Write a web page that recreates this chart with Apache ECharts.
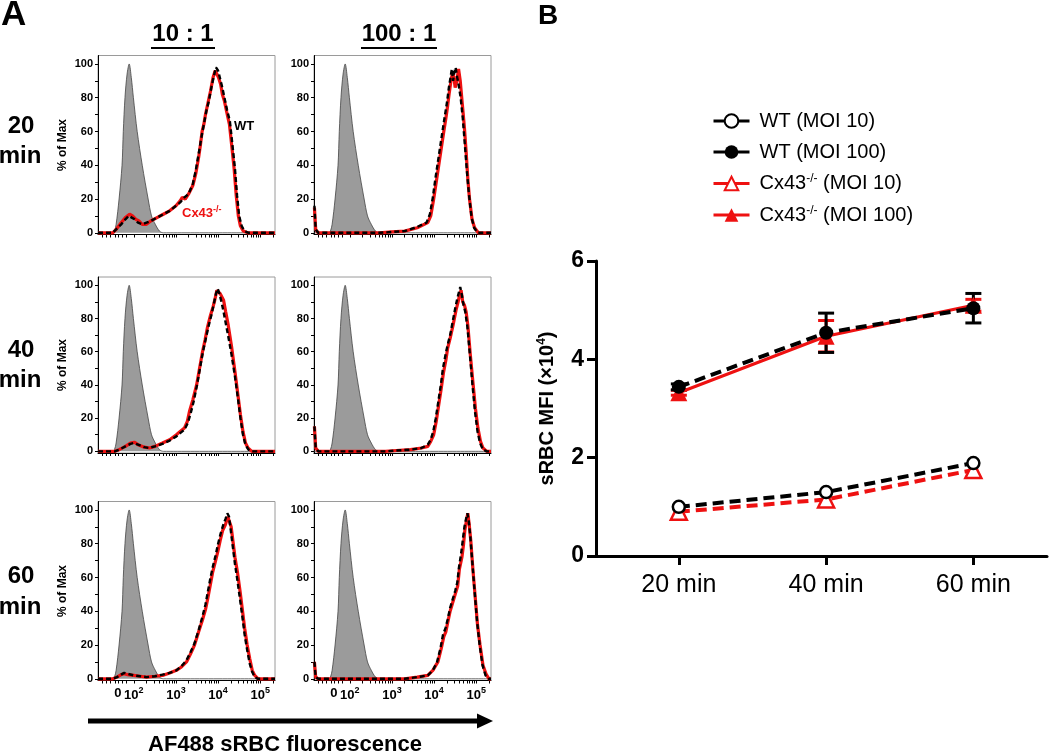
<!DOCTYPE html>
<html><head><meta charset="utf-8">
<script src="https://cdn.jsdelivr.net/npm/echarts@6/dist/echarts.min.js"></script>
<style>html,body{margin:0;padding:0;background:#fff}#c{width:1050px;height:756px}</style>
</head><body><div id="c"></div>
<script>
const FONT = '"Liberation Sans", Arial, Helvetica, sans-serif';

// ---------------- Panel A data (x = display position in decades, y = % of Max) ----------------
const rowLabels = ['20', '40', '60'];
const colLabels = ['10 : 1', '100 : 1'];
const xTickPositions = [1.62, 2, 3, 4, 5];
const xTickLabels = ['0', '10^2', '10^3', '10^4', '10^5'];
const yTickLabels = [0, 20, 40, 60, 80, 100];

const ctrlHist = [[1.15,0],[1.50,0],[1.54,1],[1.58,5],[1.65,20],[1.72,40],[1.75,60],[1.79,80],[1.84,94],[1.89,100],[1.94,92],[1.99,80],[2.08,60],[2.20,40],[2.34,20],[2.42,10],[2.51,5],[2.61,1],[2.70,0],[5.35,0]];

const cx_20_10 = [[1.15,0],[1.50,0],[1.58,2],[1.70,6],[1.80,9],[1.90,11],[1.97,10],[2.05,8],[2.12,7],[2.20,5],[2.30,5],[2.40,7],[2.55,9],[2.70,11],[2.85,13],[3.00,16],[3.10,19],[3.15,21],[3.22,20],[3.30,23],[3.40,28],[3.47,35],[3.54,45],[3.58,52],[3.62,60],[3.66,64],[3.70,70],[3.76,77],[3.82,84],[3.88,92],[3.93,96],[3.97,94],[4.01,92],[4.06,88],[4.10,82],[4.15,78],[4.20,72],[4.27,64],[4.33,50],[4.38,38],[4.43,22],[4.48,10],[4.53,4],[4.60,1],[4.70,0],[5.35,0]];
const wt_20_10 = [[1.15,0],[1.50,0],[1.58,2],[1.70,5],[1.80,8],[1.88,10],[1.95,9],[2.02,8],[2.10,6],[2.20,5],[2.30,6],[2.40,7],[2.55,9],[2.70,11],[2.85,13],[3.00,16],[3.10,18],[3.20,21],[3.30,23],[3.40,29],[3.47,37],[3.54,47],[3.60,56],[3.66,64],[3.72,72],[3.78,78],[3.84,86],[3.90,93],[3.95,98],[4.00,96],[4.05,91],[4.10,86],[4.15,80],[4.21,73],[4.28,66],[4.34,52],[4.40,38],[4.45,22],[4.50,10],[4.56,4],[4.63,1],[4.72,0],[5.35,0]];

const cx_20_100 = [[1.16,15],[1.19,2],[1.25,0],[2.70,0],[3.00,0.5],[3.30,1],[3.60,3],[3.85,6],[3.92,10],[3.99,20],[4.05,30],[4.11,40],[4.17,50],[4.23,60],[4.28,68],[4.32,75],[4.36,83],[4.40,90],[4.44,95],[4.47,92],[4.50,86],[4.54,90],[4.58,97],[4.62,90],[4.67,76],[4.72,62],[4.76,48],[4.80,32],[4.84,20],[4.90,8],[4.96,3],[5.05,0],[5.35,0]];
const wt_20_100 = [[1.16,16],[1.19,2],[1.25,0],[2.70,0],[3.00,0.5],[3.30,1],[3.60,3.5],[3.82,6],[3.90,11],[3.97,21],[4.03,32],[4.09,42],[4.15,52],[4.21,62],[4.26,70],[4.31,78],[4.35,86],[4.39,92],[4.42,97],[4.45,90],[4.48,95],[4.51,98],[4.54,93],[4.58,88],[4.63,80],[4.68,68],[4.73,52],[4.78,36],[4.83,22],[4.89,9],[4.95,3],[5.03,0],[5.35,0]];

const cx_40_10 = [[1.15,0],[1.55,0],[1.65,1],[1.80,3],[1.92,5],[2.01,5.5],[2.10,4],[2.25,2.5],[2.37,2],[2.50,3],[2.68,5],[2.85,7],[3.01,10],[3.10,12],[3.20,14],[3.27,18],[3.32,24],[3.40,31],[3.49,40],[3.56,50],[3.63,60],[3.69,67],[3.75,75],[3.82,82],[3.88,87],[3.92,91],[3.97,97],[4.01,98],[4.05,95],[4.09,96],[4.13,91],[4.18,84],[4.24,76],[4.32,63],[4.40,48],[4.47,34],[4.53,22],[4.59,12],[4.65,5],[4.71,2],[4.80,0],[5.35,0]];
const wt_40_10 = [[1.15,0],[1.55,0],[1.65,1],[1.80,3],[1.92,4.5],[2.00,5],[2.10,4],[2.25,2.5],[2.37,2],[2.50,3],[2.68,4.5],[2.85,6.5],[3.01,9],[3.10,11],[3.20,13],[3.28,17],[3.35,23],[3.42,30],[3.50,40],[3.57,50],[3.64,60],[3.70,67],[3.77,75],[3.84,82],[3.90,89],[3.95,95],[3.99,98],[4.03,95],[4.08,90],[4.13,84],[4.19,76],[4.25,68],[4.32,58],[4.40,45],[4.47,32],[4.53,20],[4.59,10],[4.65,4],[4.72,1],[4.80,0],[5.35,0]];

const cx_40_100 = [[1.16,15],[1.19,2],[1.25,0],[2.85,0],[3.10,0.5],[3.44,1],[3.70,2],[3.85,3],[3.92,6],[3.99,10],[4.05,18],[4.11,28],[4.17,38],[4.22,47],[4.28,55],[4.32,62],[4.38,68],[4.45,76],[4.52,85],[4.57,90],[4.61,95],[4.64,97],[4.68,90],[4.72,88],[4.76,84],[4.80,76],[4.86,58],[4.92,42],[4.98,26],[5.04,14],[5.10,6],[5.16,2],[5.25,0],[5.35,0]];
const wt_40_100 = [[1.16,15],[1.19,2],[1.25,0],[2.85,0],[3.10,0.5],[3.44,1],[3.70,2],[3.85,4],[3.92,7],[3.98,12],[4.04,20],[4.10,30],[4.16,40],[4.21,50],[4.27,58],[4.32,64],[4.38,70],[4.44,78],[4.50,86],[4.55,92],[4.59,96],[4.62,99],[4.66,94],[4.70,88],[4.74,84],[4.79,75],[4.85,58],[4.91,40],[4.97,24],[5.03,12],[5.09,5],[5.16,1],[5.25,0],[5.35,0]];

const cx_60_10 = [[1.15,0],[1.50,0],[1.60,1],[1.70,2.5],[1.77,3],[1.85,2.5],[2.00,2],[2.15,1.5],[2.30,1],[2.50,1.5],[2.68,2],[2.85,3.5],[3.01,5],[3.13,7],[3.25,10],[3.35,15],[3.44,20],[3.54,28],[3.63,35],[3.70,41],[3.75,47],[3.81,55],[3.87,63],[3.93,69],[3.99,75],[4.05,82],[4.11,88],[4.17,91],[4.23,96],[4.27,95],[4.31,90],[4.36,80],[4.40,72],[4.46,63],[4.52,52],[4.58,40],[4.63,30],[4.69,20],[4.75,12],[4.81,5],[4.87,2],[4.95,0],[5.35,0]];
const wt_60_10 = [[1.15,0],[1.50,0],[1.60,1],[1.70,2.5],[1.77,3.5],[1.85,3],[2.00,2],[2.15,1.5],[2.30,1],[2.50,1.5],[2.68,2.5],[2.85,3.5],[3.01,5],[3.13,7.5],[3.25,11],[3.35,16],[3.44,21],[3.54,29],[3.63,37],[3.70,44],[3.76,52],[3.82,60],[3.88,67],[3.94,73],[4.00,80],[4.06,86],[4.12,91],[4.18,95],[4.22,98],[4.26,96],[4.30,88],[4.35,78],[4.40,68],[4.46,58],[4.52,47],[4.58,36],[4.63,26],[4.69,17],[4.75,9],[4.81,4],[4.87,1],[4.95,0],[5.35,0]];

const cx_60_100 = [[1.16,10],[1.19,1],[1.25,0],[3.30,0],[3.60,1],[3.85,2],[3.97,5],[4.09,10],[4.17,18],[4.23,25],[4.28,28],[4.32,33],[4.38,40],[4.44,45],[4.50,50],[4.56,55],[4.60,65],[4.66,72],[4.70,80],[4.73,88],[4.77,94],[4.80,98],[4.83,92],[4.87,82],[4.92,65],[4.97,50],[5.03,32],[5.09,20],[5.16,8],[5.23,3],[5.30,0],[5.35,0]];
const wt_60_100 = [[1.16,10],[1.19,1],[1.25,0],[3.30,0],[3.60,1],[3.85,2],[3.97,5],[4.07,10],[4.15,18],[4.21,26],[4.27,30],[4.32,35],[4.38,42],[4.44,47],[4.50,52],[4.55,57],[4.59,66],[4.64,74],[4.68,82],[4.72,90],[4.76,95],[4.79,98],[4.82,94],[4.86,84],[4.91,68],[4.96,52],[5.02,34],[5.08,20],[5.15,8],[5.22,2],[5.30,0],[5.35,0]];

// ---------------- Panel B data ----------------
const timeMins = [20, 40, 60];
const wtMoi10 = [1.0, 1.3, 1.89];
const wtMoi100 = [3.44, 4.54, 5.04];
const cxMoi10 = [0.9, 1.15, 1.75];
const cxMoi100 = [3.32, 4.47, 5.1];
const wtMoi100Err = [0.06, 0.4, 0.3];
const cxMoi100Err = [0.05, 0.32, 0.12];
const seriesNames = ['WT (MOI 10)', 'WT (MOI 100)', 'Cx43-/- (MOI 10)', 'Cx43-/- (MOI 100)'];

// ---------------- layout ----------------
const RED = '#ee1111';
const panelData = [
  [cx_20_10, wt_20_10], [cx_20_100, wt_20_100],
  [cx_40_10, wt_40_10], [cx_40_100, wt_40_100],
  [cx_60_10, wt_60_10], [cx_60_100, wt_60_100]
];
const rowTops = [55.5, 277, 501.5];
const rowHeights = [179, 176, 179];
const colLefts = [98, 314];
const PW = 177;

const grids = [], xAxes = [], yAxes = [], series = [];
const logTicks = [1.25, 1.35, 1.45, 1.55, 1.62, 1.72, 1.82];
for (let d = 2; d <= 5; d++) for (let k = 1; k <= 9; k++) { const v = d + Math.log10(k); if (v <= 5.35) logTicks.push(v); }

for (let r = 0; r < 3; r++) {
  for (let c = 0; c < 2; c++) {
    const gi = r * 2 + c;
    grids.push({ left: colLefts[c], top: rowTops[r], width: PW, height: rowHeights[r], show: true, borderColor: '#9a9a9a', borderWidth: 1, containLabel: false });
    xAxes.push({
      type: 'value', gridIndex: gi, min: 1.15, max: 5.35,
      splitLine: { show: false },
      axisLine: { show: true, onZero: false, lineStyle: { color: '#000', width: 1 } },
      axisTick: { show: true, customValues: logTicks, length: 3, lineStyle: { color: '#000', width: 1 } },
      axisLabel: {
        show: r === 2, customValues: xTickPositions, margin: 6, color: '#000',
        formatter: v => {
          const i = xTickPositions.findIndex(p => Math.abs(p - v) < 1e-6);
          const t = i >= 0 ? xTickLabels[i] : '';
          if (t.indexOf('^') < 0) return '{b|' + t + '}';
          const parts = t.split('^');
          return '{b|' + parts[0] + '}{s|' + parts[1] + '}';
        },
        rich: {
          b: { fontSize: 13, fontWeight: 'bold', fontFamily: FONT, color: '#000' },
          s: { fontSize: 9, fontWeight: 'bold', fontFamily: FONT, color: '#000', padding: [0, 0, 9, 0] }
        }
      }
    });
    yAxes.push({
      type: 'value', gridIndex: gi, min: -1, max: 105,
      splitLine: { show: false },
      axisLine: { show: true, onZero: false, lineStyle: { color: '#000', width: 1 } },
      axisTick: { show: true, customValues: [0,10,20,30,40,50,60,70,80,90,100], length: 3, lineStyle: { color: '#000' } },
      axisLabel: { customValues: yTickLabels, fontSize: 11, fontWeight: 'bold', fontFamily: FONT, color: '#000', margin: 5 },
      name: c === 0 ? '% of Max' : '', nameLocation: 'middle', nameGap: 29, nameRotate: 90,
      nameTextStyle: { fontSize: 12, fontWeight: 'bold', fontFamily: FONT, color: '#000' }
    });
    const [cx, wt] = panelData[gi];
    series.push({
      type: 'line', xAxisIndex: gi, yAxisIndex: gi, data: ctrlHist, symbol: 'none', smooth: 0.3,
      lineStyle: { color: '#444', width: 0.8 }, areaStyle: { color: '#9b9b9b', opacity: 1 }, z: 2, silent: true
    });
    series.push({
      type: 'line', xAxisIndex: gi, yAxisIndex: gi, data: cx, symbol: 'none',
      lineStyle: { color: RED, width: 3.2 }, z: 3, silent: true
    });
    series.push({
      type: 'line', xAxisIndex: gi, yAxisIndex: gi, data: wt, symbol: 'none',
      lineStyle: { color: '#000', width: 2.4, type: [5, 3] }, z: 4, silent: true
    });
  }
}

// Panel B grid
const BG = 6;
grids.push({ left: 596, top: 261, width: 451, height: 295, show: false });
xAxes.push({
  type: 'value', gridIndex: BG, min: 8.75, max: 70,
  splitLine: { show: false },
  axisLine: { show: true, onZero: false, lineStyle: { color: '#000', width: 3 } },
  axisTick: { show: true, customValues: timeMins, length: 9, lineStyle: { color: '#000', width: 3 } },
  axisLabel: { customValues: timeMins, formatter: v => v + ' min', fontSize: 25, fontFamily: FONT, color: '#000', margin: 17 }
});
yAxes.push({
  type: 'value', gridIndex: BG, min: 0, max: 6, interval: 2,
  splitLine: { show: false },
  axisLine: { show: true, onZero: false, lineStyle: { color: '#000', width: 3 } },
  axisTick: { show: true, length: 9, lineStyle: { color: '#000', width: 3 } },
  axisLabel: { fontSize: 23, fontWeight: 'bold', fontFamily: FONT, color: '#000', margin: 12 },
  name: 'sRBC MFI (×10{s|4})', nameLocation: 'middle', nameGap: 38, nameRotate: 90,
  nameTextStyle: { fontSize: 20, fontWeight: 'bold', fontFamily: FONT, color: '#000',
    rich: { s: { fontSize: 12, fontWeight: 'bold', fontFamily: FONT, color: '#000', padding: [0, 0, 10, 0] } } }
});

function errBars(means, errs, color) {
  return {
    type: 'custom', xAxisIndex: BG, yAxisIndex: BG, silent: true, z: 5,
    data: timeMins.map((t, i) => [t, means[i] - errs[i], means[i] + errs[i]]),
    encode: { x: 0, y: [1, 2] },
    renderItem: (params, api) => {
      const x = api.value(0), lo = api.value(1), hi = api.value(2);
      const p1 = api.coord([x, hi]), p2 = api.coord([x, lo]);
      const w = 8, st = { stroke: color, lineWidth: 3 };
      return { type: 'group', children: [
        { type: 'line', shape: { x1: p1[0], y1: p1[1], x2: p2[0], y2: p2[1] }, style: st },
        { type: 'line', shape: { x1: p1[0] - w, y1: p1[1], x2: p1[0] + w, y2: p1[1] }, style: st },
        { type: 'line', shape: { x1: p2[0] - w, y1: p2[1], x2: p2[0] + w, y2: p2[1] }, style: st }
      ] };
    }
  };
}
const pairs = arr => timeMins.map((t, i) => [t, arr[i]]);

series.push(errBars(cxMoi100, cxMoi100Err, RED));
series.push({
  name: seriesNames[3], type: 'line', xAxisIndex: BG, yAxisIndex: BG, data: pairs(cxMoi100),
  symbol: 'triangle', symbolSize: 17, z: 6,
  lineStyle: { color: RED, width: 3 }, itemStyle: { color: RED, borderColor: RED, borderWidth: 0 }
});
series.push({
  name: seriesNames[2], type: 'line', xAxisIndex: BG, yAxisIndex: BG, data: pairs(cxMoi10),
  symbol: 'triangle', symbolSize: 16, z: 6,
  lineStyle: { color: RED, width: 4, type: [11, 6] }, itemStyle: { color: '#fff', borderColor: RED, borderWidth: 2.5 }
});
series.push(errBars(wtMoi100, wtMoi100Err, '#000'));
series.push({
  name: seriesNames[1], type: 'line', xAxisIndex: BG, yAxisIndex: BG, data: pairs(wtMoi100),
  symbol: 'circle', symbolSize: 14, z: 7,
  lineStyle: { color: '#000', width: 4, type: [11, 6] }, itemStyle: { color: '#000', borderColor: '#000', borderWidth: 0 }
});
series.push({
  name: seriesNames[0], type: 'line', xAxisIndex: BG, yAxisIndex: BG, data: pairs(wtMoi10),
  symbol: 'circle', symbolSize: 12, z: 7,
  lineStyle: { color: '#000', width: 4, type: [11, 6] }, itemStyle: { color: '#fff', borderColor: '#000', borderWidth: 2.5 }
});

// ---------------- text graphics ----------------
const txt = (text, x, y, size, opts) => Object.assign({
  type: 'text', silent: true,
  style: Object.assign({ text, x, y, fontSize: size, fontWeight: 'bold', fontFamily: FONT, fill: '#000', align: 'center', verticalAlign: 'middle' }, opts || {})
});
const rowY = [[126, 156], [350, 380], [576, 607]];
const graphics = [
  txt('A', 1, 15, 35, { align: 'left' }),
  txt('B', 538, 16, 28, { align: 'left' }),
  txt(colLabels[0], 183, 34, 24),
  txt(colLabels[1], 399, 34, 24),
  { type: 'line', silent: true, shape: { x1: 151, y1: 48, x2: 215, y2: 48 }, style: { stroke: '#000', lineWidth: 2 } },
  { type: 'line', silent: true, shape: { x1: 361, y1: 48, x2: 437, y2: 48 }, style: { stroke: '#000', lineWidth: 2 } },
  txt('WT', 234, 126, 13, { align: 'left' }),
  { type: 'text', silent: true, style: { text: '{a|Cx43}{s|-/-}', x: 182, y: 213, align: 'left', verticalAlign: 'middle',
    rich: { a: { fontSize: 13, fontWeight: 'bold', fontFamily: FONT, fill: RED, color: RED },
            s: { fontSize: 9, fontWeight: 'bold', fontFamily: FONT, fill: RED, color: RED, padding: [0, 0, 7, 0] } } } },
  { type: 'line', silent: true, shape: { x1: 88, y1: 721, x2: 480, y2: 721 }, style: { stroke: '#000', lineWidth: 5 } },
  { type: 'polygon', silent: true, shape: { points: [[477, 713.5], [493, 721], [477, 728.5]] }, style: { fill: '#000' } },
  txt('AF488 sRBC fluorescence', 285, 745, 22)
];
for (let r = 0; r < 3; r++) {
  graphics.push(txt(rowLabels[r], 21, rowY[r][0], 24));
  graphics.push(txt('min', 20, rowY[r][1], 24));
}

const chart = echarts.init(document.getElementById('c'), null, { renderer: 'canvas' });
chart.setOption({
  backgroundColor: '#fff',
  animation: false,
  grid: grids, xAxis: xAxes, yAxis: yAxes, series: series,
  legend: {
    data: [seriesNames[0], seriesNames[1], seriesNames[2], seriesNames[3]],
    orient: 'vertical', left: 707, top: 106, itemWidth: 36, itemHeight: 17, itemGap: 11,
    lineStyle: { type: 'solid', width: 3 },
    formatter: name => name.replace('Cx43-/-', 'Cx43{s|-/-}'),
    textStyle: { fontSize: 20, fontFamily: FONT, color: '#000', padding: [0, 0, 0, 5],
      rich: { s: { fontSize: 12, fontFamily: FONT, color: '#000', padding: [0, 0, 9, 0] } } },
    selectedMode: false
  },
  graphic: graphics
});
</script></body></html>
